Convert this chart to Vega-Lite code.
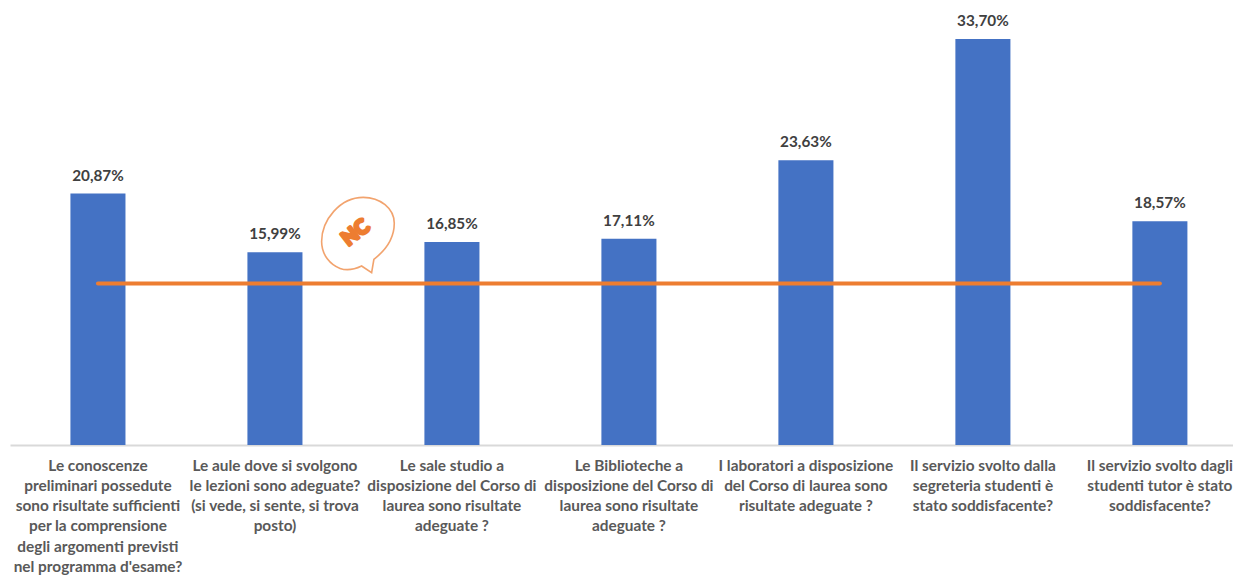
{"$schema":"https://vega.github.io/schema/vega-lite/v6.json","width":1223,"height":445,"autosize":{"type":"none"},"padding":{"left":10,"top":0,"right":0,"bottom":131},"background":"white","config":{"view":{"stroke":null}},"data":{"values":[
{"domanda":"Le conoscenze|preliminari possedute|sono risultate sufficienti|per la comprensione|degli argomenti previsti|nel programma d'esame?","valore":20.87,"etichetta":"20,87%","soglia":13.4},
{"domanda":"Le aule dove si svolgono|le lezioni sono adeguate?|(si vede, si sente, si trova|posto)","valore":15.99,"etichetta":"15,99%","soglia":13.4},
{"domanda":"Le sale studio a|disposizione del Corso di|laurea sono risultate|adeguate ?","valore":16.85,"etichetta":"16,85%","soglia":13.4},
{"domanda":"Le Biblioteche a|disposizione del Corso di|laurea sono risultate|adeguate ?","valore":17.11,"etichetta":"17,11%","soglia":13.4},
{"domanda":"I laboratori a disposizione|del Corso di laurea sono|risultate adeguate ?","valore":23.63,"etichetta":"23,63%","soglia":13.4},
{"domanda":"Il servizio svolto dalla|segreteria studenti è|stato soddisfacente?","valore":33.7,"etichetta":"33,70%","soglia":13.4},
{"domanda":"Il servizio svolto dagli|studenti tutor è stato|soddisfacente?","valore":18.57,"etichetta":"18,57%","soglia":13.4}
]},
"encoding":{"x":{"field":"domanda","type":"nominal","sort":null,"title":null,"scale":{"paddingInner":0.689,"paddingOuter":0.2995,"align":0.57},"axis":{"labelAngle":0,"labelExpr":"split(datum.label,'|')","labelFont":"Lato","labelFontWeight":"bold","labelFontSize":15.4,"labelColor":"#595959","labelLineHeight":20.3,"labelLimit":0,"labelOverlap":false,"labelBound":false,"labelFlush":false,"labelPadding":13,"ticks":false,"domainColor":"#D9D9D9","domainWidth":2,"grid":false,"labelBaseline":"top"}}},
"layer":[
{"mark":{"type":"bar","color":"#4472C4"},"encoding":{"y":{"field":"valore","type":"quantitative","scale":{"domain":[0,36.93],"nice":false},"axis":null}}},
{"mark":{"type":"line","color":"#ED7D31","strokeWidth":4,"strokeCap":"round"},"encoding":{"y":{"field":"soglia","type":"quantitative"}}},
{"mark":{"type":"text","font":"Lato","fontWeight":"bold","fontSize":15.3,"color":"#404040","baseline":"bottom","dy":-10},"encoding":{"y":{"field":"valore","type":"quantitative"},"text":{"field":"etichetta"}}},
{"data":{"values":[{"domanda":"Le aule dove si svolgono|le lezioni sono adeguate?|(si vede, si sente, si trova|posto)","pos":17.43}]},"mark":{"type":"point","filled":false,"xOffset":83,"stroke":"#ED7D31","strokeWidth":1.6,"size":5776,"shape":"M.096 .816L.36 .99L.42 .64C.8 .35 .956 .04 .956 -.307C.956 -.7 .58 -.99 .14 -.99C-.47 -.99 -.956 -.395 -.956 .175C-.956 .53 -.72 .79 -.47 .88C-.3 .94 -.08 .9 .096 .816Z"},"encoding":{"y":{"field":"pos","type":"quantitative"}}},
{"data":{"values":[{"domanda":"Le aule dove si svolgono|le lezioni sono adeguate?|(si vede, si sente, si trova|posto)","pos":17.6,"logo":"NC"}]},"mark":{"type":"text","font":"Lato","fontWeight":900,"fontSize":20,"angle":-38,"color":"#ED7D31","stroke":"#ED7D31","strokeWidth":3,"strokeJoin":"round","align":"center","baseline":"middle","xOffset":81},"encoding":{"y":{"field":"pos","type":"quantitative"},"text":{"field":"logo"}}}
]}
